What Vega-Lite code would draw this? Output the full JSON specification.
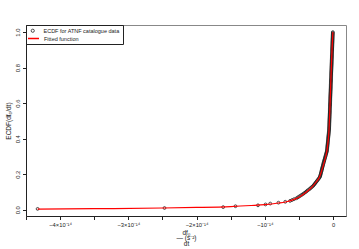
{
  "$schema": "https://vega.github.io/schema/vega-lite/v6.json",
  "width": 320,
  "height": 191,
  "autosize": {"type": "none"},
  "padding": {"left": 26, "top": 25, "right": 13, "bottom": 33},
  "background": "white",
  "config": {
    "font": "Liberation Sans",
    "view": {"stroke": "#888", "strokeWidth": 1},
    "axis": {"grid": false, "labelFont": "Liberation Sans", "titleFont": "Liberation Sans", "labelFontSize": 5.8, "titleFontSize": 6.5, "titleFontWeight": "normal", "labelColor": "#222", "titleColor": "#222", "tickColor": "#222", "domainColor": "#222", "tickSize": 3.5, "labelPadding": 2, "labelOverlap": false, "labelBound": false, "labelFlush": false},
    "legend": {"labelFont": "Liberation Sans", "labelFontSize": 5.5, "labelColor": "#222", "titleFont": "Liberation Sans"}
  },
  "datasets": {
    "ecdf": [
      {"x":-4.33e-14,"y":0.005},{"x":-2.47e-14,"y":0.01},{"x":-1.61e-14,"y":0.015},{"x":-1.43e-14,"y":0.02},{"x":-1.10e-14,"y":0.025},
      {"x":-0.99e-14,"y":0.03},{"x":-0.92e-14,"y":0.035},{"x":-0.80e-14,"y":0.04},{"x":-0.70e-14,"y":0.045},{"x":-0.63e-14,"y":0.05},
      {"x":-0.60e-14,"y":0.055},{"x":-0.57e-14,"y":0.06},{"x":-0.535e-14,"y":0.065},{"x":-0.515e-14,"y":0.07},{"x":-0.495e-14,"y":0.075},
      {"x":-0.475e-14,"y":0.08},{"x":-0.455e-14,"y":0.085},{"x":-0.435e-14,"y":0.09},{"x":-0.418e-14,"y":0.095},{"x":-0.40e-14,"y":0.1},
      {"x":-0.385e-14,"y":0.105},{"x":-0.37e-14,"y":0.11},{"x":-0.35e-14,"y":0.115},{"x":-0.335e-14,"y":0.12},{"x":-0.32e-14,"y":0.125},
      {"x":-0.305e-14,"y":0.13},{"x":-0.29e-14,"y":0.135},{"x":-0.28e-14,"y":0.14},{"x":-0.27e-14,"y":0.145},{"x":-0.26e-14,"y":0.15},
      {"x":-0.25e-14,"y":0.155},{"x":-0.24e-14,"y":0.16},{"x":-0.23e-14,"y":0.165},{"x":-0.22e-14,"y":0.17},{"x":-0.21e-14,"y":0.175},
      {"x":-0.20e-14,"y":0.18},{"x":-0.193e-14,"y":0.185},{"x":-0.188e-14,"y":0.19},{"x":-0.185e-14,"y":0.195},{"x":-0.181e-14,"y":0.2},
      {"x":-0.178e-14,"y":0.205},{"x":-0.175e-14,"y":0.21},{"x":-0.171e-14,"y":0.215},{"x":-0.168e-14,"y":0.22},{"x":-0.165e-14,"y":0.225},
      {"x":-0.161e-14,"y":0.23},{"x":-0.158e-14,"y":0.235},{"x":-0.155e-14,"y":0.24},{"x":-0.151e-14,"y":0.245},{"x":-0.148e-14,"y":0.25},
      {"x":-0.145e-14,"y":0.255},{"x":-0.141e-14,"y":0.26},{"x":-0.138e-14,"y":0.265},{"x":-0.134e-14,"y":0.27},{"x":-0.130e-14,"y":0.275},
      {"x":-0.127e-14,"y":0.28},{"x":-0.123e-14,"y":0.285},{"x":-0.119e-14,"y":0.29},{"x":-0.116e-14,"y":0.295},{"x":-0.112e-14,"y":0.3},
      {"x":-0.108e-14,"y":0.305},{"x":-0.105e-14,"y":0.31},{"x":-0.101e-14,"y":0.315},{"x":-0.097e-14,"y":0.32},{"x":-0.094e-14,"y":0.325},
      {"x":-0.090e-14,"y":0.33},{"x":-0.0887e-14,"y":0.335},{"x":-0.0873e-14,"y":0.34},{"x":-0.086e-14,"y":0.345},{"x":-0.0847e-14,"y":0.35},
      {"x":-0.0833e-14,"y":0.355},{"x":-0.082e-14,"y":0.36},{"x":-0.0807e-14,"y":0.365},{"x":-0.0793e-14,"y":0.37},{"x":-0.078e-14,"y":0.375},
      {"x":-0.0767e-14,"y":0.38},{"x":-0.0753e-14,"y":0.385},{"x":-0.074e-14,"y":0.39},{"x":-0.0727e-14,"y":0.395},{"x":-0.0713e-14,"y":0.4},
      {"x":-0.070e-14,"y":0.405},{"x":-0.0687e-14,"y":0.41},{"x":-0.0673e-14,"y":0.415},{"x":-0.066e-14,"y":0.42},{"x":-0.0647e-14,"y":0.425},
      {"x":-0.0633e-14,"y":0.43},{"x":-0.062e-14,"y":0.435},{"x":-0.0607e-14,"y":0.44},{"x":-0.0593e-14,"y":0.445},{"x":-0.058e-14,"y":0.45},
      {"x":-0.0575e-14,"y":0.455},{"x":-0.057e-14,"y":0.46},{"x":-0.0565e-14,"y":0.465},{"x":-0.056e-14,"y":0.47},{"x":-0.0555e-14,"y":0.475},
      {"x":-0.055e-14,"y":0.48},{"x":-0.0545e-14,"y":0.485},{"x":-0.054e-14,"y":0.49},{"x":-0.0535e-14,"y":0.495},{"x":-0.053e-14,"y":0.5},
      {"x":-0.0525e-14,"y":0.505},{"x":-0.052e-14,"y":0.51},{"x":-0.0515e-14,"y":0.515},{"x":-0.051e-14,"y":0.52},{"x":-0.0505e-14,"y":0.525},
      {"x":-0.050e-14,"y":0.53},{"x":-0.0495e-14,"y":0.535},{"x":-0.049e-14,"y":0.54},{"x":-0.0485e-14,"y":0.545},{"x":-0.048e-14,"y":0.55},
      {"x":-0.0475e-14,"y":0.555},{"x":-0.047e-14,"y":0.56},{"x":-0.0465e-14,"y":0.565},{"x":-0.046e-14,"y":0.57},{"x":-0.0455e-14,"y":0.575},
      {"x":-0.045e-14,"y":0.58},{"x":-0.0445e-14,"y":0.585},{"x":-0.044e-14,"y":0.59},{"x":-0.0435e-14,"y":0.595},{"x":-0.043e-14,"y":0.6},
      {"x":-0.0425e-14,"y":0.605},{"x":-0.042e-14,"y":0.61},{"x":-0.0415e-14,"y":0.615},{"x":-0.041e-14,"y":0.62},{"x":-0.0405e-14,"y":0.625},
      {"x":-0.040e-14,"y":0.63},{"x":-0.0395e-14,"y":0.635},{"x":-0.039e-14,"y":0.64},{"x":-0.0385e-14,"y":0.645},{"x":-0.038e-14,"y":0.65},
      {"x":-0.0375e-14,"y":0.655},{"x":-0.037e-14,"y":0.66},{"x":-0.0365e-14,"y":0.665},{"x":-0.036e-14,"y":0.67},{"x":-0.0355e-14,"y":0.675},
      {"x":-0.035e-14,"y":0.68},{"x":-0.0345e-14,"y":0.685},{"x":-0.034e-14,"y":0.69},{"x":-0.0335e-14,"y":0.695},{"x":-0.033e-14,"y":0.7},
      {"x":-0.0325e-14,"y":0.705},{"x":-0.032e-14,"y":0.71},{"x":-0.0315e-14,"y":0.715},{"x":-0.031e-14,"y":0.72},{"x":-0.0305e-14,"y":0.725},
      {"x":-0.030e-14,"y":0.73},{"x":-0.0295e-14,"y":0.735},{"x":-0.029e-14,"y":0.74},{"x":-0.0285e-14,"y":0.745},{"x":-0.028e-14,"y":0.75},
      {"x":-0.0275e-14,"y":0.755},{"x":-0.027e-14,"y":0.76},{"x":-0.0265e-14,"y":0.765},{"x":-0.026e-14,"y":0.77},{"x":-0.0255e-14,"y":0.775},
      {"x":-0.025e-14,"y":0.78},{"x":-0.0245e-14,"y":0.785},{"x":-0.024e-14,"y":0.79},{"x":-0.0235e-14,"y":0.795},{"x":-0.023e-14,"y":0.8},
      {"x":-0.0225e-14,"y":0.805},{"x":-0.022e-14,"y":0.81},{"x":-0.0215e-14,"y":0.815},{"x":-0.021e-14,"y":0.82},{"x":-0.0205e-14,"y":0.825},
      {"x":-0.020e-14,"y":0.83},{"x":-0.0195e-14,"y":0.835},{"x":-0.019e-14,"y":0.84},{"x":-0.0185e-14,"y":0.845},{"x":-0.018e-14,"y":0.85},
      {"x":-0.0175e-14,"y":0.855},{"x":-0.017e-14,"y":0.86},{"x":-0.0165e-14,"y":0.865},{"x":-0.016e-14,"y":0.87},{"x":-0.0155e-14,"y":0.875},
      {"x":-0.015e-14,"y":0.88},{"x":-0.0145e-14,"y":0.885},{"x":-0.014e-14,"y":0.89},{"x":-0.0135e-14,"y":0.895},{"x":-0.013e-14,"y":0.9},
      {"x":-0.0125e-14,"y":0.905},{"x":-0.012e-14,"y":0.91},{"x":-0.0115e-14,"y":0.915},{"x":-0.011e-14,"y":0.92},{"x":-0.0105e-14,"y":0.925},
      {"x":-0.010e-14,"y":0.93},{"x":-0.0095e-14,"y":0.935},{"x":-0.009e-14,"y":0.94},{"x":-0.0085e-14,"y":0.945},{"x":-0.008e-14,"y":0.95},
      {"x":-0.0075e-14,"y":0.955},{"x":-0.007e-14,"y":0.96},{"x":-0.0065e-14,"y":0.965},{"x":-0.006e-14,"y":0.97},{"x":-0.0055e-14,"y":0.975},
      {"x":-0.005e-14,"y":0.98},{"x":-0.0045e-14,"y":0.985},{"x":-0.004e-14,"y":0.99},{"x":-0.0035e-14,"y":0.995},{"x":-0.003e-14,"y":1.0}
    ],
    "fit": [
      {"x":-4.33e-14,"y":0.004},{"x":-3.5e-14,"y":0.006},{"x":-2.5e-14,"y":0.01},{"x":-2.0e-14,"y":0.013},{"x":-1.5e-14,"y":0.018},
      {"x":-1.2e-14,"y":0.024},{"x":-1.0e-14,"y":0.029},{"x":-0.8e-14,"y":0.038},{"x":-0.7e-14,"y":0.044},{"x":-0.6e-14,"y":0.054},
      {"x":-0.5e-14,"y":0.07},{"x":-0.4e-14,"y":0.097},{"x":-0.35e-14,"y":0.113},{"x":-0.3e-14,"y":0.132},{"x":-0.25e-14,"y":0.155},
      {"x":-0.2e-14,"y":0.183},{"x":-0.15e-14,"y":0.24},{"x":-0.12e-14,"y":0.28},{"x":-0.1e-14,"y":0.31},{"x":-0.08e-14,"y":0.36},
      {"x":-0.06e-14,"y":0.44},{"x":-0.045e-14,"y":0.58},{"x":-0.03e-14,"y":0.75},{"x":-0.015e-14,"y":0.9},{"x":-0.002e-14,"y":1.0}
    ]
  },
  "encoding": {
    "x": {"field": "x", "type": "quantitative", "scale": {"domain": [-4.5e-14, 0.19e-14], "nice": false, "zero": false},
      "axis": {"values": [-4.5e-14, -4e-14, -3.5e-14, -3e-14, -2.5e-14, -2e-14, -1.5e-14, -1e-14, -0.5e-14, 0],
        "labelOverlap": false,
        "labelExpr": "abs(datum.value*1e14 - round(datum.value*1e14)) > 0.01 ? '' : (round(datum.value*1e14) == 0 ? '0' : (round(datum.value*1e14) == -1 ? '−10⁻¹⁴' : '−' + abs(round(datum.value*1e14)) + '×10⁻¹⁴'))",
        "title": ["df₀        ", "—    (s⁻²)", "dt        "], "titleFontSize": 6.5, "titleLineHeight": 5.5, "titlePadding": 2}},
    "y": {"field": "y", "type": "quantitative", "scale": {"domain": [-0.035, 1.04], "nice": false, "zero": false},
      "axis": {"values": [0, 0.2, 0.4, 0.6, 0.8, 1.0], "format": ".1f", "labelOverlap": false, "labelAngle": 270, "labelAlign": "center", "labelBaseline": "bottom", "title": "ECDF(df₀/dt)", "titlePadding": 3}}
  },
  "layer": [
    {
      "data": {"name": "ecdf"},
      "mark": {"type": "point", "filled": false, "size": 8, "strokeWidth": 0.8, "opacity": 1},
      "encoding": {
        "color": {"datum": "ECDF for ATNF catalogue data", "type": "nominal",
          "scale": {"range": ["#222222"]},
          "legend": {"title": " ", "titleOrient": "bottom", "titleFontSize": 6, "titlePadding": 1, "orient": "none", "legendX": 0, "legendY": 0, "strokeColor": "#222", "padding": 3,
            "symbolSize": 10, "symbolStrokeWidth": 0.8, "symbolOffset": 1, "labelOffset": 8}}
      }
    },
    {
      "data": {"name": "fit"},
      "mark": {"type": "line", "strokeWidth": 1.2, "interpolate": "monotone"},
      "encoding": {
        "stroke": {"datum": "Fitted function", "type": "nominal",
          "scale": {"range": ["#ff0000"]},
          "legend": {"title": null, "orient": "none", "legendX": 0, "legendY": 6, "padding": 1,
            "symbolType": "stroke", "symbolSize": 121, "symbolStrokeWidth": 1.5, "labelOffset": 4}}
      }
    }
  ]
}
